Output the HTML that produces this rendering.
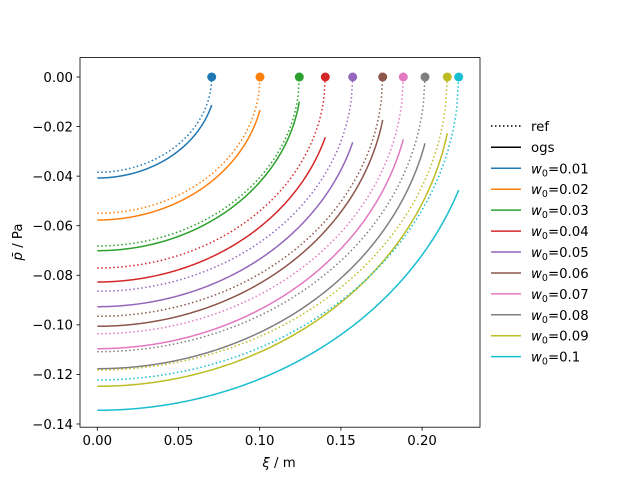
<!DOCTYPE html>
<html><head><meta charset="utf-8"><style>
body{margin:0;background:#fff;}
text{font-family:"DejaVu Sans","Liberation Sans",sans-serif;font-size:13.3px;fill:#000;}
</style></head><body>
<svg id="s" width="640" height="480" xmlns="http://www.w3.org/2000/svg">
<rect width="640" height="480" fill="#fff"/>
<g id="curves"></g>
<rect x="80" y="57.6" width="400" height="369.6" fill="none" stroke="#000" stroke-width="0.8"/>
<g id="ticks" stroke="#000" stroke-width="0.8"></g>
<g id="labels"></g>
<text x="279" y="467" text-anchor="middle" font-style="normal"><tspan font-style="italic">ξ</tspan> / m</text>
<text transform="translate(22,242) rotate(-90)" text-anchor="middle"><tspan font-style="italic">p̄</tspan> / Pa</text>
<g id="legend"></g>
</svg>
<script>
var NS="http://www.w3.org/2000/svg";
function el(t,a,p){var e=document.createElementNS(NS,t);for(var k in a)e.setAttribute(k,a[k]);document.getElementById(p).appendChild(e);return e;}
var cols=["#1f77b4","#ff7f0e","#2ca02c","#d62728","#9467bd","#8c564b","#e377c2","#7f7f7f","#bcbd22","#17becf"];
var xR=[211.7,260,299.3,325.3,352.7,382.7,403.3,425,447.3,458.7];
var yd=[172.3,213.3,246,268,291.3,316.3,333.7,351.7,370,380];
var ys=[178,220,250.7,282,306.7,326.3,348.7,368.7,386.3,410.3];
var ye=[105,110,101.7,137.3,142.3,120,139.3,143.3,133.3,190];
var X0=97.3,Y0=77;
for(var i=0;i<10;i++){
 var d="",n=200,L=xR[i]-X0;
 for(var j=0;j<=n;j++){var t=j/n;var x=X0+L*t;var y=Y0+(yd[i]-Y0)*Math.sqrt(Math.max(0,1-t*t));d+=(j?"L":"M")+x.toFixed(2)+","+y.toFixed(2);}
 el("path",{d:d,fill:"none",stroke:cols[i],"stroke-width":1.5,"stroke-dasharray":"1.5 2.5"},"curves");
 var k=(ye[i]-Y0)/(ys[i]-Y0);var s=Math.sqrt(1-k*k);d="";
 for(var j=0;j<=n;j++){var t=j/n;var x=X0+L*t;var y=Y0+(ys[i]-Y0)*Math.sqrt(1-t*t*s*s);d+=(j?"L":"M")+x.toFixed(2)+","+y.toFixed(2);}
 el("path",{d:d,fill:"none",stroke:cols[i],"stroke-width":1.5},"curves");
 el("circle",{cx:xR[i],cy:Y0,r:4.5,fill:cols[i]},"curves");
}
var xl=["0.00","0.05","0.10","0.15","0.20"];
for(var i=0;i<5;i++){var x=X0+i*81.2;el("line",{x1:x,y1:427.2,x2:x,y2:430.7},"ticks");var t=el("text",{x:x,y:445,"text-anchor":"middle"},"labels");t.textContent=xl[i];}
for(var i=0;i<8;i++){var y=Y0+i*49.57;el("line",{x1:76.5,y1:y,x2:80,y2:y},"ticks");var t=el("text",{x:73,y:y+4.8,"text-anchor":"end"},"labels");t.textContent=(i==0?"0.00":"\u2212"+(i*0.02).toFixed(2));}
el("line",{x1:491,y1:126,x2:521,y2:126,stroke:"#000","stroke-width":1.5,"stroke-dasharray":"1.5 2.5"},"legend");
var t=el("text",{x:531,y:131},"legend");t.textContent="ref";
el("line",{x1:491,y1:147.3,x2:521,y2:147.3,stroke:"#000","stroke-width":1.5},"legend");
t=el("text",{x:531,y:152},"legend");t.textContent="ogs";
var wl=["0.01","0.02","0.03","0.04","0.05","0.06","0.07","0.08","0.09","0.1"];
for(var i=0;i<10;i++){var y=168.3+i*20.93;el("line",{x1:491,y1:y,x2:521,y2:y,stroke:cols[i],"stroke-width":1.5},"legend");
 t=el("text",{x:531,y:y+5},"legend");t.innerHTML='<tspan font-style="italic">w</tspan><tspan font-size="9.5" dy="3">0</tspan><tspan dy="-3">=</tspan>'+wl[i];}
</script>
</body></html>
